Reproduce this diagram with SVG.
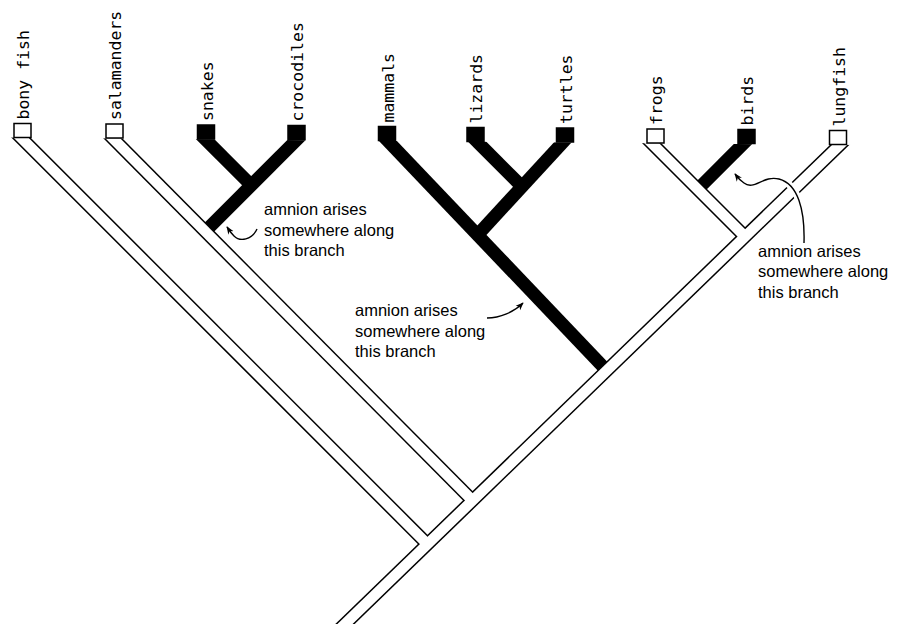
<svg xmlns="http://www.w3.org/2000/svg" width="920" height="624" viewBox="0 0 920 624">
<defs>
<style>
.bg{fill:#fff}
.amn{stroke:#000;stroke-width:13;fill:none;stroke-linecap:butt}
.ol{stroke:#000;stroke-width:13.5;fill:none;stroke-linecap:butt}
.in{stroke:#fff;stroke-width:10.5;fill:none;stroke-linecap:butt}
.box{stroke:#000;stroke-width:1.5}
.open{fill:#fff}
.fill{fill:#000}
.lab{font-family:"DejaVu Sans Mono","Liberation Mono",monospace;font-size:16.5px;fill:#000}
.note{font-family:"Liberation Sans",Arial,sans-serif;font-size:16.5px;fill:#000}
.arr{fill:none;stroke:#000;stroke-width:1.4}
.halo{fill:none;stroke:#fff;stroke-width:7}
</style>
<clipPath id="top"><polygon points="0,137.5 920,145.5 920,640 0,640"/></clipPath>
<marker id="ah" viewBox="0 0 10 10" refX="9" refY="5" markerWidth="8" markerHeight="8" markerUnits="userSpaceOnUse" orient="auto"><path d="M0,1 L10,5 L0,9 L3,5 z" fill="#000"/></marker>
</defs>
<rect class="bg" x="0" y="0" width="920" height="624"/>
<g id="connectors" clip-path="url(#top)">
<g id="amnion-branches">
<line class="amn" x1="311.5" y1="125" x2="205.2" y2="231.3"/>
<line class="amn" x1="191" y1="125" x2="251.25" y2="185.25"/>
<line class="amn" x1="372.7" y1="125" x2="606.9" y2="370.7"/>
<line class="amn" x1="578.8" y1="125" x2="477.5" y2="235"/>
<line class="amn" x1="460.5" y1="125" x2="522" y2="186.6"/>
<line class="amn" x1="762" y1="125" x2="697.75" y2="189.25"/>
</g>
<g id="open-branches-outline">
<line class="ol" x1="855.1" y1="130" x2="338.8" y2="630"/>
<line class="ol" x1="8.3" y1="125" x2="427.5" y2="544.2"/>
<line class="ol" x1="99.6" y1="125" x2="472.5" y2="500.5"/>
<line class="ol" x1="633.5" y1="125" x2="745" y2="236.5"/>
</g>
<g id="open-branches-fill">
<line class="in" x1="855.1" y1="130" x2="338.8" y2="630"/>
<line class="in" x1="8.3" y1="125" x2="427.5" y2="544.2"/>
<line class="in" x1="99.6" y1="125" x2="472.5" y2="500.5"/>
<line class="in" x1="633.5" y1="125" x2="745" y2="236.5"/>
</g>
</g>
<g id="bony-fish"><rect class="box open" x="14" y="123.5" width="17" height="14"/><text class="lab" transform="translate(29,119.5) rotate(-90)">bony fish</text></g>
<g id="salamanders"><rect class="box open" x="106" y="124" width="17" height="14"/><text class="lab" transform="translate(121,120) rotate(-90)">salamanders</text></g>
<g id="snakes"><rect class="box fill" x="197.5" y="125" width="17" height="14"/><text class="lab" transform="translate(212.5,121) rotate(-90)">snakes</text></g>
<g id="crocodiles"><rect class="box fill" x="288" y="125.5" width="17" height="14"/><text class="lab" transform="translate(303,121.5) rotate(-90)">crocodiles</text></g>
<g id="mammals"><rect class="box fill" x="378.5" y="126.5" width="17" height="14"/><text class="lab" transform="translate(393.5,122.5) rotate(-90)">mammals</text></g>
<g id="lizards"><rect class="box fill" x="467" y="127.5" width="17" height="14"/><text class="lab" transform="translate(482,123.5) rotate(-90)">lizards</text></g>
<g id="turtles"><rect class="box fill" x="556.5" y="128" width="17" height="14"/><text class="lab" transform="translate(571.5,124) rotate(-90)">turtles</text></g>
<g id="frogs"><rect class="box open" x="647" y="129" width="17" height="14"/><text class="lab" transform="translate(662,125) rotate(-90)">frogs</text></g>
<g id="birds"><rect class="box fill" x="738" y="129.5" width="17" height="14"/><text class="lab" transform="translate(753,125.5) rotate(-90)">birds</text></g>
<g id="lungfish"><rect class="box open" x="829.5" y="130.5" width="17" height="14"/><text class="lab" transform="translate(844.5,126.5) rotate(-90)">lungfish</text></g>
<g id="note-1">
<text class="note" x="264" y="215">amnion arises</text>
<text class="note" x="264" y="236">somewhere along</text>
<text class="note" x="264" y="256">this branch</text>
<path class="arr" marker-end="url(#ah)" d="M257,229 C252,240 240,242 234,236 C231,233 229,230 227,227"/>
</g>
<g id="note-2">
<text class="note" x="355" y="316">amnion arises</text>
<text class="note" x="355" y="337">somewhere along</text>
<text class="note" x="355" y="357">this branch</text>
<path class="arr" marker-end="url(#ah)" d="M487,318 C500,318 514,312 523,303"/>
</g>
<g id="note-3">
<text class="note" x="758" y="257">amnion arises</text>
<text class="note" x="758" y="277">somewhere along</text>
<text class="note" x="758" y="298">this branch</text>
<path class="halo" d="M804,243 C805,210 798,184 779,179"/>
<path class="arr" marker-end="url(#ah)" d="M804,243 C805,210 798,184 779,179 C763,175 754,191 744,183 C741,181 738,178 735,174"/>
</g>
</svg>
